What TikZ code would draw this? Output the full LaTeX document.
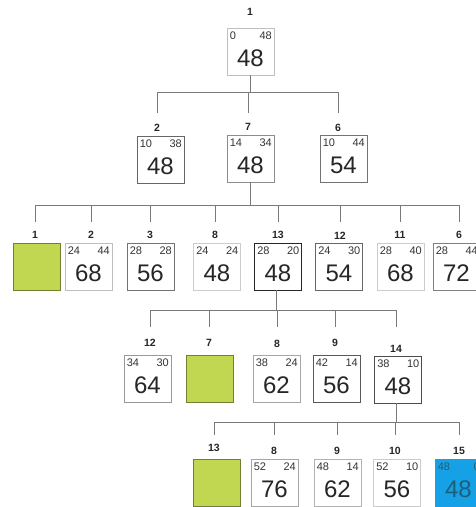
\documentclass[tikz,border=0pt]{standalone}
\usepackage{fontspec}
\setmainfont{Liberation Sans}
\definecolor{lgreen}{HTML}{C1D651}
\definecolor{lblue}{HTML}{16A0E6}
\definecolor{bluetext}{HTML}{1E5F78}
\definecolor{conncol}{HTML}{7A7A7A}
\tikzset{
 box/.style={minimum width=47pt, minimum height=47pt, inner sep=0pt, line width=0.9pt},
 lab/.style={font=\fontsize{10.5}{10.5}\selectfont\bfseries, text=black!85, inner sep=1pt},
 sm/.style={font=\fontsize{11}{11}\selectfont, text=black!80, inner sep=0pt},
 big/.style={font=\fontsize{24}{24}\selectfont, text=black!85, inner sep=0pt},
 conn/.style={draw=conncol, line width=0.9pt},
}
\newcommand\cell[9]{%
 \node[box, draw=#9] (#1) at (#2, #3+23.5) {};
 \node[lab] (#1l) at (#4) {#5};
 \node[sm, anchor=west] (#1a) at ([xshift=3pt,yshift=-8pt]#1.north west) {#6};
 \node[sm, anchor=east] (#1b) at ([xshift=-2.5pt,yshift=-8pt]#1.north east) {#7};
 \node[big] (#1c) at ([yshift=-31pt]#1.north) {#8};
}
\newcommand\gcell[5]{%
 \node[box, fill=lgreen, draw=lgreen!60!black] (#1) at (#2, #3+23.5) {};
 \node[lab] (#1l) at (#4) {#5};
}
\begin{document}
\begin{tikzpicture}[x=1pt,y=-1pt]
\useasboundingbox (0,0) rectangle (476,507);
% level 1
\cell{n1}{250.5}{28}{250,12}{1}{0}{48}{48}{black!25}
% level 2
\cell{p2}{160.5}{136}{157,128}{2}{10}{38}{48}{black!60}
\cell{p7}{250.5}{135}{248,127}{7}{14}{34}{48}{black!45}
\cell{p6}{343.5}{135}{338,128}{6}{10}{44}{54}{black!55}
% level 3
\gcell{q1}{36.5}{243}{35,235}{1}
\cell{q2}{88.5}{243}{91,235}{2}{24}{44}{68}{black!25}
\cell{q3}{150.5}{243}{150,235}{3}{28}{28}{56}{black!55}
\cell{q8}{217}{243}{215,235}{8}{24}{24}{48}{black!20}
\cell{q13}{278}{243}{278,235}{13}{28}{20}{48}{black!85}
\cell{q12}{339}{243}{340,236}{12}{24}{30}{54}{black!60}
\cell{q11}{400.5}{243}{400,235}{11}{28}{40}{68}{black!20}
\cell{q6}{456.5}{243}{459,235}{6}{28}{44}{72}{black!50}
% level 4
\cell{r12}{147.5}{355}{150,343}{12}{34}{30}{64}{black!40}
\gcell{r7}{210}{355}{209,343}{7}
\cell{r8}{276.5}{355}{277,344}{8}{38}{24}{62}{black!35}
\cell{r9}{336.5}{355}{335,343}{9}{42}{14}{56}{black!65}
\cell{r14}{398}{356}{396,349}{14}{38}{10}{48}{black!70}
% level 5
\gcell{s13}{216.5}{459}{214,448}{13}
\cell{s8}{274.5}{459}{274,451}{8}{52}{24}{76}{black!35}
\cell{s9}{337.5}{459}{337,451}{9}{48}{14}{62}{black!30}
\cell{s10}{397}{459}{395,451}{10}{52}{10}{56}{black!20}
\node[box, fill=lblue, draw=lblue] (s15) at (458.5, 482.5) {};
\node[lab] (s15l) at (459,451) {15};
\node[sm, anchor=west, text=bluetext] (s15a) at ([xshift=3pt,yshift=-8pt]s15.north west) {48};
\node[sm, anchor=east, text=bluetext] (s15b) at ([xshift=-2.5pt,yshift=-8pt]s15.north east) {0};
\node[big, text=bluetext] (s15c) at ([yshift=-31pt]s15.north) {48};
% connectors
\coordinate (b1) at (0,92);  \coordinate (e1) at (0,113);
\coordinate (b2) at (0,205); \coordinate (e2) at (0,222);
\coordinate (b3) at (0,310); \coordinate (e3) at (0,327);
\coordinate (b4) at (0,422); \coordinate (e4) at (0,435);
\draw[conn] (n1.south) -- (n1.south |- b1);
\draw[conn] (p2l.north |- b1) -- (p6l.north |- b1);
\foreach \c in {p2l,p7l,p6l} \draw[conn] (\c.north |- b1) -- (\c.north |- e1);
\draw[conn] (p7.south) -- (p7.south |- b2);
\draw[conn] (q1l.north |- b2) -- (q6l.north |- b2);
\foreach \c in {q1l,q2l,q3l,q8l,q13l,q12l,q11l,q6l} \draw[conn] (\c.north |- b2) -- (\c.north |- e2);
\draw[conn] ([xshift=-2pt]q13.south) -- ([xshift=-2pt]q13.south |- b3);
\draw[conn] (r12l.north |- b3) -- (r14l.north |- b3);
\foreach \c in {r12l,r7l,r8l,r9l,r14l} \draw[conn] (\c.north |- b3) -- (\c.north |- e3);
\draw[conn] ([xshift=-2pt]r14.south) -- ([xshift=-2pt]r14.south |- b4);
\draw[conn] (s13l.north |- b4) -- (s15l.north |- b4);
\foreach \c in {s13l,s8l,s9l,s10l,s15l} \draw[conn] (\c.north |- b4) -- (\c.north |- e4);
\end{tikzpicture}
\end{document}
